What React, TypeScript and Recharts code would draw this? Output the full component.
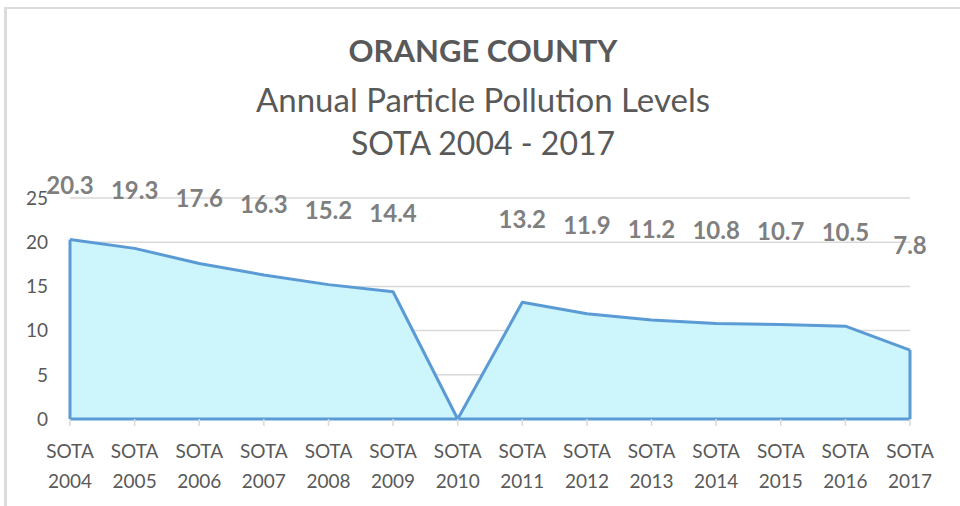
import { AreaChart, Area, XAxis, YAxis, CartesianGrid, ReferenceLine, LabelList } from 'recharts';

const years = ['2004', '2005', '2006', '2007', '2008', '2009', '2010', '2011', '2012', '2013', '2014', '2015', '2016', '2017'];
const pm = [20.3, 19.3, 17.6, 16.3, 15.2, 14.4, 0, 13.2, 11.9, 11.2, 10.8, 10.7, 10.5, 7.8];
const yTicks = [0, 5, 10, 15, 20, 25];

const data = years.map((y, i) => ({ year: y, value: pm[i] }));

const FONT = 'Lato, "Open Sans", sans-serif';
const BLUE = '#5B9BD5';

const YearTick = (props: any) => {
  const { x, y, payload } = props;
  return (
    <g transform={`translate(${x},${y})`}>
      <text textAnchor="middle" fill="#595959" fontSize={19} fontFamily={FONT}>
        <tspan x={0} dy={26}>SOTA</tspan>
        <tspan x={0} dy={30}>{payload.value}</tspan>
      </text>
    </g>
  );
};

// Excel pushed the labels up into a band above the line
const ValueLabel = (props: any) => {
  const { x, y, value } = props;
  if (!value) return null;
  const ly = 0.536 * y + 58;
  return (
    <text x={x} y={ly} dy={8} textAnchor="middle" fill="#7F7F7F" fontSize={24} fontWeight="bold" fontFamily={FONT}>
      {value.toFixed(1)}
    </text>
  );
};

const titleStyle: any = { position: 'absolute', left: 0, width: 966, textAlign: 'center', fontFamily: FONT, color: '#595959', lineHeight: '40px' };

export default function App() {
  const first = data[0];
  const last = data[data.length - 1];
  return (
    <div style={{ position: 'fixed', left: 0, top: 0, width: 960, height: 506, background: '#fff' }}>
      <div style={{ position: 'absolute', left: 4, top: 7, right: 0, bottom: 0, borderTop: '2px solid #dcdcdc', borderLeft: '3px solid #dcdcdc' }} />
      <div style={{ ...titleStyle, top: 30, fontSize: 31, fontWeight: 'bold' }}>ORANGE COUNTY</div>
      <div style={{ ...titleStyle, top: 79, fontSize: 33 }}>Annual Particle Pollution Levels</div>
      <div style={{ ...titleStyle, top: 123, fontSize: 32 }}>SOTA 2004 - 2017</div>
      <div style={{ position: 'absolute', left: 0, top: 0 }}>
        <AreaChart width={960} height={506} data={data} margin={{ top: 198, right: 50, bottom: 7, left: 0 }}>
          <CartesianGrid vertical={false} stroke="#d9d9d9" strokeWidth={1.5} />
          <XAxis
            dataKey="year"
            tick={<YearTick />}
            interval={0}
            height={80}
            tickSize={7}
            tickLine={{ stroke: '#d9d9d9', strokeWidth: 1.5 }}
            axisLine={{ stroke: BLUE, strokeWidth: 3 }}
            tickMargin={6}
            padding={{ left: 0, right: 0 }}
          />
          <YAxis
            domain={[0, 25]}
            ticks={yTicks}
            width={70}
            axisLine={false}
            tickLine={false}
            tickMargin={16}
            tick={{ fill: '#595959', fontSize: 19, fontFamily: FONT }}
          />
          <Area
            type="linear"
            dataKey="value"
            stroke={BLUE}
            strokeWidth={3}
            strokeLinejoin="round"
            fill="#CCF5FC"
            fillOpacity={1}
            isAnimationActive={false}
            dot={false}
            activeDot={false}
          >
            <LabelList dataKey="value" content={<ValueLabel />} />
          </Area>
          <ReferenceLine segment={[{ x: first.year, y: 0 }, { x: first.year, y: first.value }]} stroke={BLUE} strokeWidth={3} />
          <ReferenceLine segment={[{ x: last.year, y: 0 }, { x: last.year, y: last.value }]} stroke={BLUE} strokeWidth={3} />
        </AreaChart>
      </div>
    </div>
  );
}
